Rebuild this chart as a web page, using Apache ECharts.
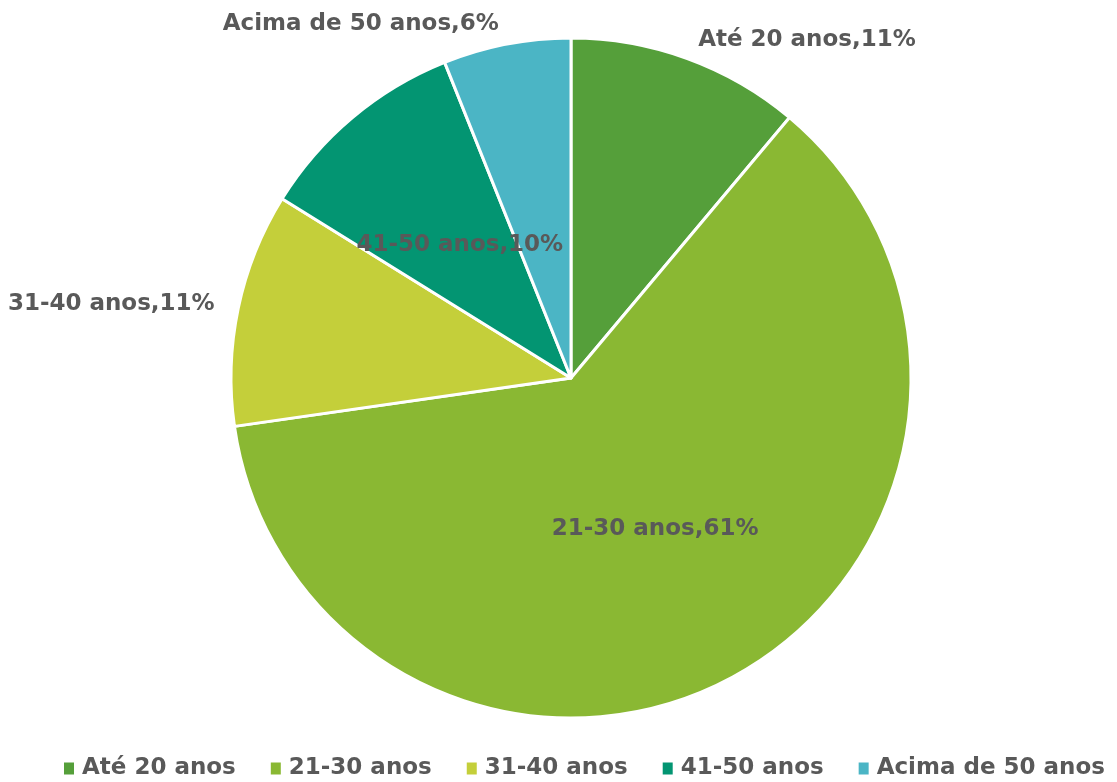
<!DOCTYPE html>
<html>
<head>
<meta charset="utf-8">
<script src="https://cdn.jsdelivr.net/npm/echarts@6/dist/echarts.min.js"></script>
<style>
  html, body { margin: 0; padding: 0; background: #fff; }
  #main { width: 1117px; height: 782px; }
</style>
</head>
<body>
<div id="main"></div>
<script>
  // faixas etárias e percentuais
  var categories = ['Até 20 anos', '21-30 anos', '31-40 anos', '41-50 anos', 'Acima de 50 anos'];
  var values = [11, 61, 11, 10, 6];
  var colors = ['#559f3a', '#8ab833', '#c4cf3a', '#039572', '#4bb5c5'];
  // rótulos dentro da fatia (como no original)
  var insideLabels = ['21-30 anos', '41-50 anos'];

  var chart = echarts.init(document.getElementById('main'));

  var data = [];
  for (var i = 0; i < categories.length; i++) {
    var item = {name: categories[i], value: values[i], itemStyle: {color: colors[i]}};
    if (insideLabels.indexOf(categories[i]) >= 0) {
      item.label = {position: 'inside'};
    }
    data.push(item);
  }

  var option = {
    backgroundColor: '#fff',
    textStyle: {fontFamily: 'DejaVu Sans'},
    legend: {
      bottom: -3,
      left: 57,
      width: 1400,
      itemWidth: 12,
      itemHeight: 14,
      itemGap: 33,
      icon: 'rect',
      data: categories,
      textStyle: {color: '#595959', fontSize: 23, fontWeight: 'bold', fontFamily: 'DejaVu Sans', padding: [0, 0, 0, 2]}
    },
    series: [{
      type: 'pie',
      center: [571, 378],
      radius: [0, 340],
      startAngle: 90,
      clockwise: true,
      animation: false,
      itemStyle: {borderColor: '#fff', borderWidth: 3},
      label: {
        show: true,
        position: 'outside',
        overflow: 'none',
        formatter: function (p) { return p.name + ',' + p.value + '%'; },
        color: '#595959',
        fontSize: 23,
        fontWeight: 'bold',
        fontFamily: 'DejaVu Sans',
        distanceToLabelLine: 4
      },
      labelLine: {show: false, length: 20, length2: 0},
      data: data
    }]
  };

  chart.setOption(option);
</script>
</body>
</html>
